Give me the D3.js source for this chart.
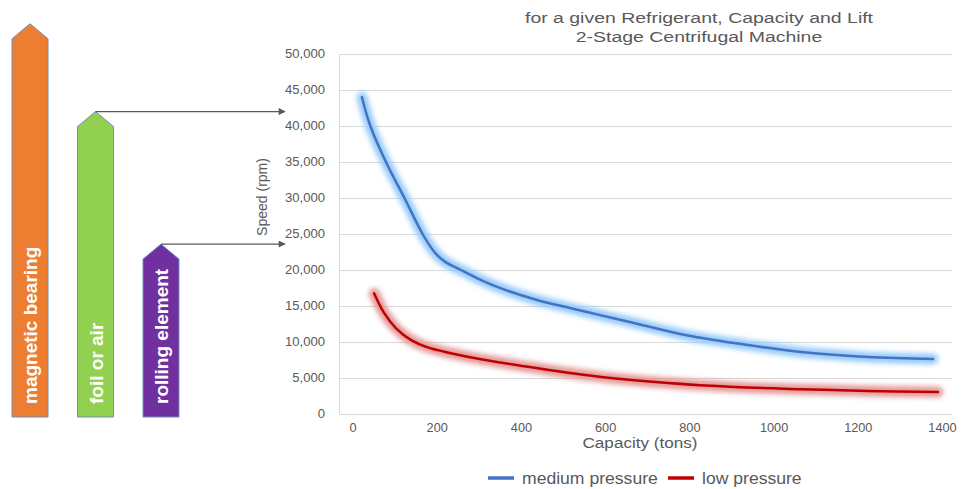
<!DOCTYPE html>
<html>
<head>
<meta charset="utf-8">
<script src="https://cdn.jsdelivr.net/npm/d3@7"></script>
<style>
  html, body { margin: 0; padding: 0; background: #fff; }
  svg { display: block; font-family: "Liberation Sans", Arial, sans-serif; }
</style>
</head>
<body>
<svg id="chart" width="963" height="489"></svg>
<script>
// ---------- data ----------
const titleLines = ["for a given Refrigerant, Capacity and Lift", "2-Stage Centrifugal Machine"];
const xTicks = [0, 200, 400, 600, 800, 1000, 1200, 1400];
const yTicks = [0, 5000, 10000, 15000, 20000, 25000, 30000, 35000, 40000, 45000, 50000];
const xLabel = "Capacity (tons)";
const yLabel = "Speed (rpm)";

const mediumCapacity = [26, 46, 83, 127, 170, 198, 222, 261, 309, 363, 444, 522, 594, 672, 791, 910, 990, 1069, 1228, 1382];
const mediumSpeed    = [44000, 40000, 35000, 30000, 25000, 22500, 21200, 20000, 18600, 17300, 15800, 14700, 13700, 12650, 11000, 9850, 9200, 8600, 7900, 7650];
const lowCapacity = [55, 79, 107, 142, 182, 237, 309, 444, 594, 753, 910, 1069, 1228, 1394];
const lowSpeed    = [16750, 14000, 11900, 10300, 9250, 8450, 7600, 6350, 5150, 4300, 3750, 3450, 3200, 3050];

const seriesNames = ["medium pressure", "low pressure"];
const bearingNames = ["magnetic bearing", "foil or air", "rolling element"];
const bearingMaxSpeed = [54200, 42000, 23600];   // speed limit each bearing type reaches
const bearingArrow = [false, true, true];

// ---------- styles ----------
const grey = "#595959";
const seriesColors = ["#4472C4", "#C00000"];
const glowColors = ["#93c9fa", "#e39494"];
const bearingColors = ["#ED7D31", "#92D050", "#7030A0"];

const svg = d3.select("#chart");
const plot = { left: 339, right: 952, top: 54, bottom: 414 };

const x = d3.scaleLinear().domain([0, 1400]).range([351, 940.5]);
const y = d3.scaleLinear().domain([0, 50000]).range([plot.bottom, plot.top]);

function stretchText(g, px, py, k, txt, opts) {
  const t = g.append("text")
    .attr("transform", `translate(${px},${py}) scale(${k},1)`)
    .text(txt);
  Object.entries(opts || {}).forEach(([a, v]) => t.attr(a, v));
  return t;
}

// defs
const defs = svg.append("defs");
defs.append("filter").attr("id", "glow")
  .attr("x", "-20%").attr("y", "-20%").attr("width", "140%").attr("height", "140%")
  .append("feGaussianBlur").attr("stdDeviation", 2.8);
defs.append("marker").attr("id", "arrowhead")
  .attr("viewBox", "0 0 10 10").attr("refX", 9).attr("refY", 5)
  .attr("markerWidth", 9).attr("markerHeight", 7).attr("markerUnits", "userSpaceOnUse")
  .attr("orient", "auto")
  .append("path").attr("d", "M0,0 L10,5 L0,10 z").attr("fill", grey);

// ---------- title ----------
const tg = svg.append("g").attr("fill", grey).attr("font-size", 14);
titleLines.forEach((line, i) => {
  stretchText(tg, 699, 23 + i * 19, 1.39, line, { "text-anchor": "middle" });
});

// ---------- grid ----------
const grid = svg.append("g");
grid.selectAll("line.h").data(yTicks).join("line")
  .attr("x1", plot.left).attr("x2", plot.right)
  .attr("y1", d => y(d) + 0.5).attr("y2", d => y(d) + 0.5)
  .attr("stroke", "#d9d9d9").attr("stroke-width", 1);
grid.append("line")
  .attr("x1", plot.left + 0.5).attr("x2", plot.left + 0.5)
  .attr("y1", plot.top).attr("y2", plot.bottom)
  .attr("stroke", "#d9d9d9").attr("stroke-width", 1);

// y tick labels
const yl = svg.append("g").attr("fill", grey).attr("font-size", 12);
yTicks.forEach(v => {
  stretchText(yl, 325, y(v) + 4, 1.09, d3.format(",")(v), { "text-anchor": "end" });
});
// x tick labels
const xl = svg.append("g").attr("fill", grey).attr("font-size", 12);
xTicks.forEach(v => {
  stretchText(xl, x(v) + 2, 432, 1.06, String(v), { "text-anchor": "middle" });
});

// axis titles
stretchText(svg.append("g").attr("fill", grey).attr("font-size", 15), 640, 448, 1.14, xLabel, { "text-anchor": "middle" });
svg.append("text")
  .attr("transform", `translate(267,197) rotate(-90)`)
  .attr("text-anchor", "middle").attr("fill", grey).attr("font-size", 14)
  .text(yLabel);

// ---------- series ----------
const series = [
  mediumCapacity.map((c, i) => [c, mediumSpeed[i]]),
  lowCapacity.map((c, i) => [c, lowSpeed[i]])
];
const line = d3.line().x(d => x(d[0])).y(d => y(d[1])).curve(d3.curveCatmullRom.alpha(0.5));
const sg = svg.append("g");
series.forEach((s, i) => {
  sg.append("path").attr("d", line(s))
    .attr("fill", "none").attr("stroke", glowColors[i]).attr("stroke-width", 11)
    .attr("stroke-linecap", "round").attr("stroke-linejoin", "round")
    .attr("filter", "url(#glow)").attr("opacity", 0.95);
});
series.forEach((s, i) => {
  sg.append("path").attr("d", line(s))
    .attr("fill", "none").attr("stroke", seriesColors[i]).attr("stroke-width", 2.5)
    .attr("stroke-linecap", "round").attr("stroke-linejoin", "round");
});

// ---------- legend ----------
const lg = svg.append("g").attr("font-size", 16).attr("fill", grey);
const legendX = [488, 668];
seriesNames.forEach((n, i) => {
  lg.append("line").attr("x1", legendX[i]).attr("x2", legendX[i] + 26)
    .attr("y1", 478).attr("y2", 478)
    .attr("stroke", seriesColors[i]).attr("stroke-width", 3.5);
  stretchText(lg, legendX[i] + 34, 484, 1.1, n);
});

// ---------- bearing arrows (left) ----------
const bx = d3.scalePoint().domain(bearingNames).range([30, 161]);
const bw = 36, shoulder = 15;
const bottom = y(0) + 3;
const bg = svg.append("g");
bearingNames.forEach((n, i) => {
  const cx = bx(n);
  const top = y(bearingMaxSpeed[i]);
  const pts = [
    [cx - bw / 2, bottom], [cx - bw / 2, top + shoulder], [cx, top],
    [cx + bw / 2, top + shoulder], [cx + bw / 2, bottom]
  ];
  bg.append("path").attr("d", "M" + pts.map(p => p.join(",")).join("L") + "Z")
    .attr("fill", bearingColors[i]).attr("stroke", "#6f8fbf").attr("stroke-width", 1);
  bg.append("text")
    .attr("transform", `translate(${cx + 7},${bottom - 13}) rotate(-90)`)
    .attr("fill", "#fff").attr("font-size", 19).attr("font-weight", "bold")
    .text(n);
  if (bearingArrow[i]) {
    bg.append("line").attr("x1", cx).attr("x2", 285)
      .attr("y1", top).attr("y2", top)
      .attr("stroke", grey).attr("stroke-width", 1.3)
      .attr("marker-end", "url(#arrowhead)");
  }
});
</script>
</body>
</html>
